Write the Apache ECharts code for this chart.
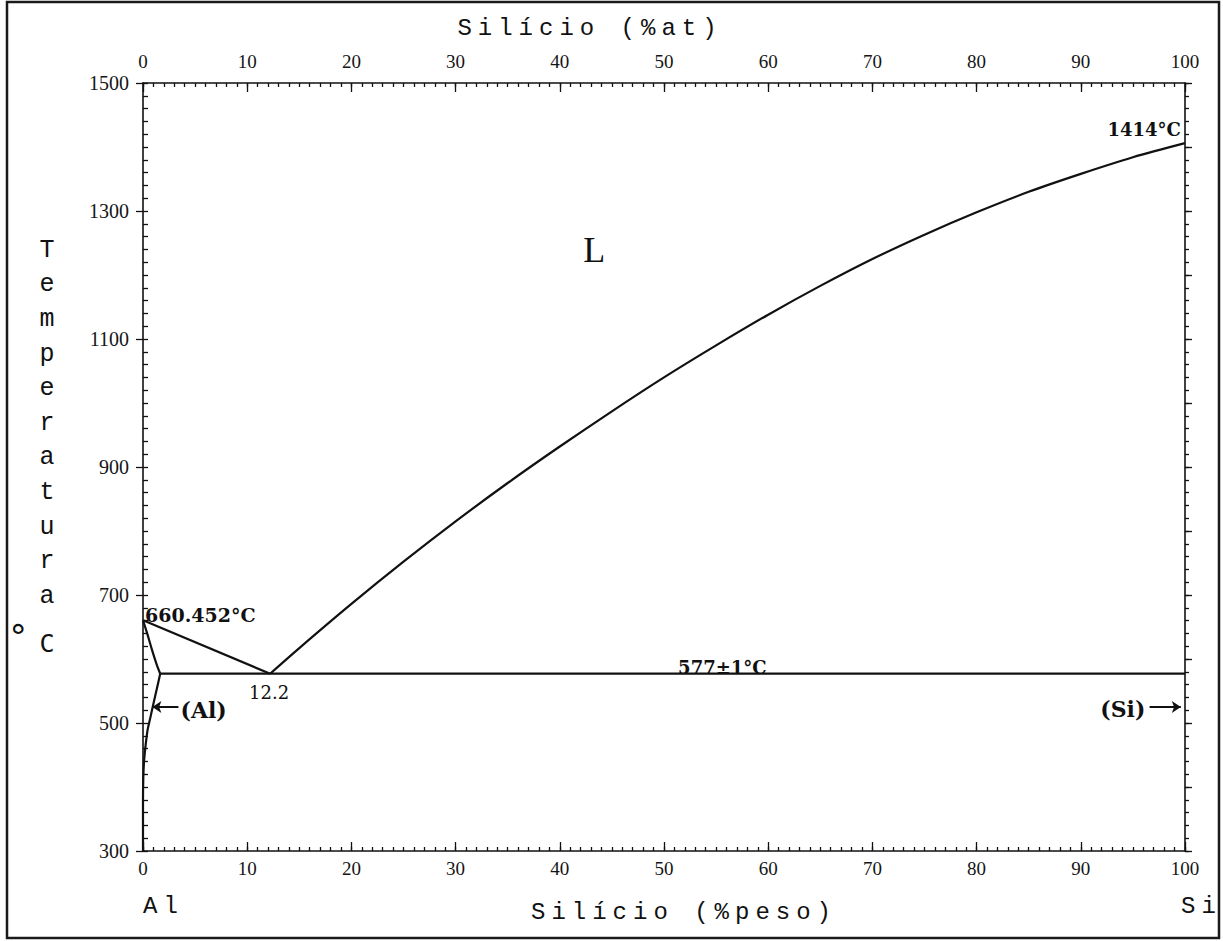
<!DOCTYPE html>
<html>
<head>
<meta charset="utf-8">
<script src="https://cdn.jsdelivr.net/npm/echarts@6/dist/echarts.min.js"></script>
<style>
html,body{margin:0;padding:0;background:#fff;}
#c{width:1223px;height:941px;}
#c svg text[style*="Liberation Mono"]{letter-spacing:6px;}
</style>
</head>
<body>
<div id="c"></div>
<script>
// ---- data (Al–Si phase diagram) ----
const xTicksWt = [0, 10, 20, 30, 40, 50, 60, 70, 80, 90, 100];
const tempTicks = [300, 500, 700, 900, 1100, 1300, 1500];

const liqAlX = [0, 12.2];
const liqAlT = [660.452, 577];

const liqSiX = [12.2, 15, 20, 25, 30, 35, 40, 45, 50, 55, 60, 65, 70, 75, 80, 85, 90, 95, 100];
const liqSiT = [577, 617, 686, 752, 815, 875, 932, 987, 1040, 1090, 1138, 1183, 1225, 1263, 1298, 1330, 1358, 1384, 1406];

const solidusX = [0, 0.4, 0.85, 1.3, 1.65];
const solidusT = [660.452, 640, 615, 592, 577];

const solvusX = [1.65, 1.35, 1.0, 0.7, 0.45, 0.25, 0.1, 0.03, 0, 0];
const solvusT = [577, 555, 530, 508, 490, 465, 440, 415, 380, 300];

const eutX = [1.65, 100];
const eutT = [577, 577];

const alArrowX = [3.4, 0.9];
const siArrowX = [96.6, 99.6];
const arrowT = 525;

const noteText = ['L', '660.452°C', '1414°C', '577±1°C', '12.2', '(Al)', '(Si)'];
const noteX = [43.3, 0.2, 99.6, 55.6, 12.1, 3.6, 96.2];
const noteT = [1239, 669, 1427, 587, 548, 520, 522];

const zip = (xs, ys) => xs.map((x, i) => [x, ys[i]]);

// ---- chart ----
const chart = echarts.init(document.getElementById('c'), null, {renderer: 'svg'});
const INK = '#111';
const plain = v => String(v);
const tickFont = {fontFamily: 'Liberation Serif', fontSize: 20, color: '#151515', formatter: plain};
const lineSty = {color: INK, width: 2.2};

const noBorder = {textBorderWidth: 0, textBorderColor: 'transparent', textShadowBlur: 0, opacity: 1};
const noteStyles = [
  {position: 'inside', fontFamily: 'Liberation Serif', fontSize: 36, color: INK},
  {position: 'right', distance: 0, fontFamily: 'DejaVu Serif', fontWeight: 'bold', fontSize: 19, color: INK},
  {position: 'left', distance: 0, fontFamily: 'DejaVu Serif', fontWeight: 'bold', fontSize: 18, color: INK},
  {position: 'inside', fontFamily: 'DejaVu Serif', fontWeight: 'bold', fontSize: 18, color: INK},
  {position: 'inside', fontFamily: 'DejaVu Serif', fontSize: 18, color: INK},
  {position: 'right', distance: 0, fontFamily: 'DejaVu Serif', fontWeight: 'bold', fontSize: 22, color: INK},
  {position: 'left', distance: 0, fontFamily: 'DejaVu Serif', fontWeight: 'bold', fontSize: 22, color: INK}
];

function xAx(pos, interval, tickLen, showLine, label, margin) {
  return {
    type: 'value', min: 0, max: 100, interval: interval, position: pos,
    axisLine: {show: showLine, onZero: false, lineStyle: {color: INK, width: 1.6}},
    axisTick: {show: true, inside: true, length: tickLen, lineStyle: {color: INK, width: 1.3}},
    splitLine: {show: false},
    axisLabel: label ? Object.assign({}, tickFont, {fontSize: 19, margin: margin}) : {show: false}
  };
}
function yAx(pos, interval, tickLen, inside, showLine, label) {
  return {
    type: 'value', min: 300, max: 1500, interval: interval, position: pos, offset: 0,
    axisLine: {show: showLine, onZero: false, lineStyle: {color: INK, width: 1.6}},
    axisTick: {show: true, inside: inside, length: tickLen, lineStyle: {color: INK, width: 1.3}},
    splitLine: {show: false},
    axisLabel: label ? Object.assign({}, tickFont, {margin: 14}) : {show: false}
  };
}

const option = {
  backgroundColor: '#fff',
  animation: false,
  grid: {left: 143, right: 38, top: 83, bottom: 90, outerBoundsMode: 'none', containLabel: false},
  xAxis: [
    xAx('bottom', 10, 9, true, true, 8),
    xAx('top', 10, 9, true, true, 12),
    xAx('bottom', 1, 4, false, false),
    xAx('top', 1, 4, false, false)
  ],
  yAxis: [
    yAx('left', 200, 7, false, true, true),
    yAx('right', 100, 7, false, true, false),
    yAx('left', 20, 5, true, false, false),
    yAx('right', 20, 4, false, false, false)
  ],
  series: [
    {type: 'line', data: zip(liqAlX, liqAlT), symbol: 'none', lineStyle: lineSty, z: 3},
    {type: 'line', data: zip(liqSiX, liqSiT), symbol: 'none', smooth: 0.3, lineStyle: lineSty, z: 3},
    {type: 'line', data: zip(solidusX, solidusT), symbol: 'none', smooth: 0.3, lineStyle: lineSty, z: 3},
    {type: 'line', data: zip(solvusX, solvusT), symbol: 'none', smooth: 0.3, lineStyle: lineSty, z: 3},
    {type: 'line', data: zip(eutX, eutT), symbol: 'none', lineStyle: lineSty, z: 3,
      markLine: {
        silent: true, symbol: ['none', 'arrow'], symbolSize: [9, 9],
        label: {show: false},
        lineStyle: {color: INK, width: 2, type: 'solid', opacity: 1},
        data: [
          [{coord: [alArrowX[0], arrowT]}, {coord: [alArrowX[1], arrowT]}],
          [{coord: [siArrowX[0], arrowT]}, {coord: [siArrowX[1], arrowT]}]
        ]
      }
    },
    {
      type: 'scatter', symbolSize: 0, silent: true, z: 5,
      itemStyle: {color: INK, opacity: 1},
      data: noteText.map((t, i) => ({
        value: [noteX[i], noteT[i]], name: t,
        label: Object.assign({show: true, formatter: '{b}'}, noBorder, noteStyles[i])
      }))
    }
  ],
  graphic: [
    {type: 'rect', shape: {x: 7, y: 2, width: 1212, height: 936},
      style: {fill: 'none', stroke: '#1a1a1a', lineWidth: 2.5}, silent: true},
    {type: 'text', x: 590, y: 28, style: {text: 'Silício (%at)', fontFamily: 'Liberation Mono', fontSize: 24,
      fill: INK, textAlign: 'center', textVerticalAlign: 'middle'}},
    {type: 'text', x: 684, y: 912, style: {text: 'Silício (%peso)', fontFamily: 'Liberation Mono', fontSize: 24,
      fill: INK, textAlign: 'center', textVerticalAlign: 'middle'}},
    {type: 'text', x: 50, y: 233, style: {text: 'T\ne\nm\np\ne\nr\na\nt\nu\nr\na', fontFamily: 'Liberation Mono', fontSize: 25,
      lineHeight: 34.6, fill: INK, textAlign: 'center', textVerticalAlign: 'top'}},
    {type: 'text', x: 8, y: 620, style: {text: '{d|°}{c|C}', fill: INK, textAlign: 'left', textVerticalAlign: 'top',
      rich: {
        d: {fontFamily: 'DejaVu Sans Mono', fontSize: 34, verticalAlign: 'top', lineHeight: 36, padding: [0, 11, 0, 0], color: INK},
        c: {fontFamily: 'DejaVu Sans Mono', fontSize: 25, verticalAlign: 'bottom', lineHeight: 36, padding: [14, 0, 0, 0], color: INK}
      }}},
    {type: 'text', x: 143, y: 906, style: {text: 'Al', fontFamily: 'Liberation Mono', fontSize: 24,
      fill: INK, textAlign: 'left', textVerticalAlign: 'middle'}},
    {type: 'text', x: 1181, y: 906, style: {text: 'Si', fontFamily: 'Liberation Mono', fontSize: 24,
      fill: INK, textAlign: 'left', textVerticalAlign: 'middle'}}
  ]
};
chart.setOption(option);
</script>
</body>
</html>
